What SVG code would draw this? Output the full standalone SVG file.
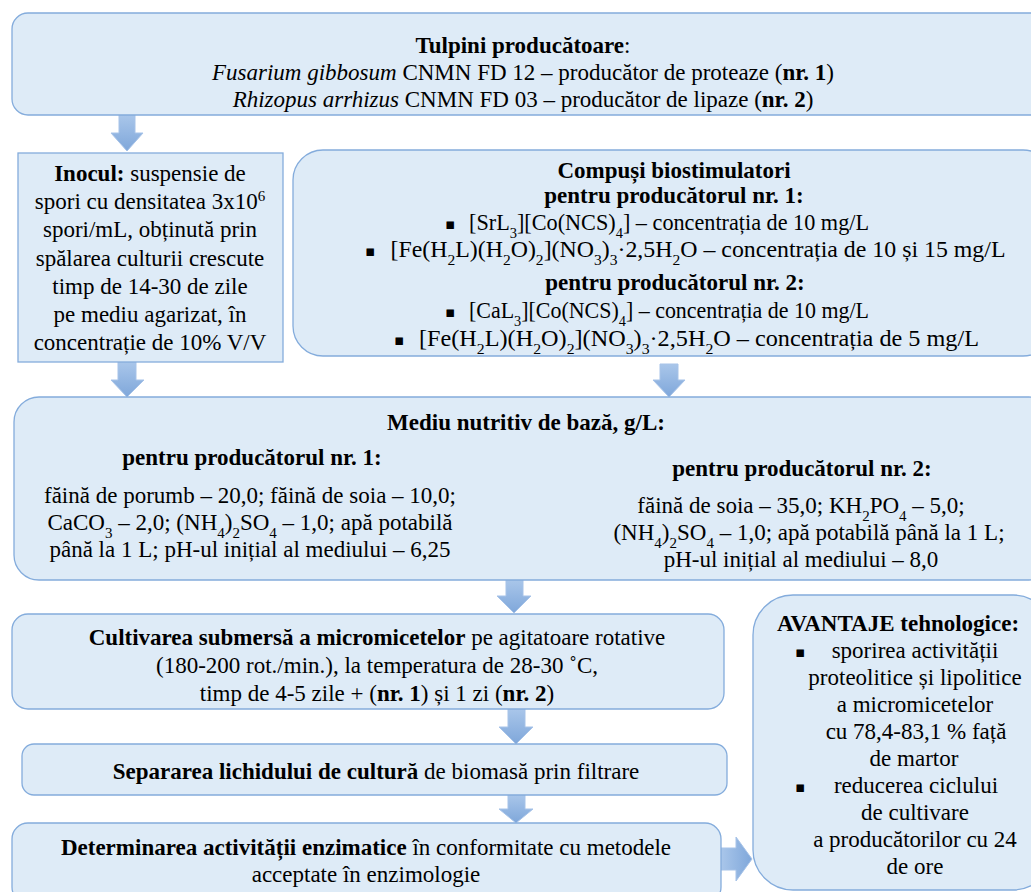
<svg xmlns="http://www.w3.org/2000/svg" width="1031" height="892" viewBox="0 0 1031 892">
<defs>
<linearGradient id="ag" x1="0" y1="0" x2="1" y2="0">
<stop offset="0" stop-color="#A9C6EA"/>
<stop offset="1" stop-color="#7FA7DA"/>
</linearGradient>
<linearGradient id="agv" x1="0" y1="0" x2="0" y2="1">
<stop offset="0" stop-color="#A9C6EA"/>
<stop offset="1" stop-color="#7FA7DA"/>
</linearGradient>
<style>
.box{fill:#DEEBF7;stroke:#84ACDC;stroke-width:1.3}
.arr{fill:url(#agv);stroke:#A7C3E8;stroke-width:1}
.arrh{fill:url(#ag);stroke:#A7C3E8;stroke-width:1}
text{font-family:"Liberation Serif","Times New Roman",serif;font-size:23px;fill:#000}
.c{text-anchor:middle}
.b{font-weight:bold}
.i{font-style:italic}
.bul{font-family:"DejaVu Sans",sans-serif;font-size:15px;text-anchor:middle}
.sub{font-size:15px;baseline-shift:sub}
.sup{font-size:15px;baseline-shift:super}
</style>
</defs>
<g id="connectors">
<path class="arr" d="M119,115 H135 V133 H143 L127,151 L111,133 H119 Z"/>
<path class="arr" d="M118,362 H136 V380 H144 L127,397 L111,380 H118 Z"/>
<path class="arr" d="M660,364 H678 V380 H685 L669,397 L653,380 H660 Z"/>
<path class="arr" d="M506,580 H523 V596 H531 L514,613 L497,596 H506 Z"/>
<path class="arr" d="M508,709 H525 V727 H533 L516,744 L499,727 H508 Z"/>
<path class="arr" d="M508,795 H525 V809 H533 L516,823 L499,809 H508 Z"/>
<path class="arrh" d="M721,848 H736 V837 L752,859 L736,881 V870 H721 Z"/>
</g>
<g id="tulpini">
<rect class="box" x="12" y="13" width="1040" height="102" rx="16"/>
<text class="c" x="523" y="53"><tspan class="b">Tulpini producătoare</tspan>:</text>
<text class="c" x="523" y="80"><tspan class="i">Fusarium gibbosum</tspan> CNMN FD 12 – producător de proteaze (<tspan class="b">nr. 1</tspan>)</text>
<text class="c" x="523" y="107"><tspan class="i">Rhizopus arrhizus</tspan> CNMN FD 03 – producător de lipaze (<tspan class="b">nr. 2</tspan>)</text>
</g>
<g id="inocul">
<rect class="box" x="18" y="153" width="265" height="209"/>
<text class="c" x="150" y="181"><tspan class="b">Inocul:</tspan> suspensie de</text>
<text class="c" x="150" y="209">spori cu densitatea 3x10<tspan class="sup">6</tspan></text>
<text class="c" x="150" y="237">spori/mL, obținută prin</text>
<text class="c" x="150" y="266">spălarea culturii crescute</text>
<text class="c" x="150" y="294">timp de 14-30 de zile</text>
<text class="c" x="150" y="322">pe mediu agarizat, în</text>
<text class="c" x="150" y="350">concentrație de 10% V/V</text>
</g>
<g id="compusi">
<rect class="box" x="293" y="150" width="760" height="206" rx="30"/>
<text class="c b" x="674" y="178">Compuși biostimulatori</text>
<text class="c b" x="674" y="203">pentru producătorul nr. 1:</text>
<text class="bul" x="450" y="229">▪</text>
<text class="c" x="669" y="230" textLength="400" lengthAdjust="spacingAndGlyphs">[SrL<tspan class="sub">3</tspan>][Co(NCS)<tspan class="sub">4</tspan>] – concentrația de 10 mg/L</text>
<text class="bul" x="370" y="256">▪</text>
<text class="c" x="698" y="257" textLength="615" lengthAdjust="spacingAndGlyphs">[Fe(H<tspan class="sub">2</tspan>L)(H<tspan class="sub">2</tspan>O)<tspan class="sub">2</tspan>](NO<tspan class="sub">3</tspan>)<tspan class="sub">3</tspan>·2,5H<tspan class="sub">2</tspan>O – concentrația de 10 și 15 mg/L</text>
<text class="c b" x="675" y="290">pentru producătorul nr. 2:</text>
<text class="bul" x="450" y="317">▪</text>
<text class="c" x="669" y="318" textLength="400" lengthAdjust="spacingAndGlyphs">[CaL<tspan class="sub">3</tspan>][Co(NCS)<tspan class="sub">4</tspan>] – concentrația de 10 mg/L</text>
<text class="bul" x="399" y="345">▪</text>
<text class="c" x="699" y="346" textLength="560" lengthAdjust="spacingAndGlyphs">[Fe(H<tspan class="sub">2</tspan>L)(H<tspan class="sub">2</tspan>O)<tspan class="sub">2</tspan>](NO<tspan class="sub">3</tspan>)<tspan class="sub">3</tspan>·2,5H<tspan class="sub">2</tspan>O – concentrația de 5 mg/L</text>
</g>
<g id="mediu">
<rect class="box" x="14" y="397" width="1040" height="183" rx="25"/>
<text class="c b" x="526" y="430">Mediu nutritiv de bază, g/L:</text>
<text class="c b" x="252" y="465">pentru producătorul nr. 1:</text>
<text class="c" x="250" y="503">făină de porumb – 20,0; făină de soia – 10,0;</text>
<text class="c" x="250" y="530">CaCO<tspan class="sub">3</tspan> – 2,0; (NH<tspan class="sub">4</tspan>)<tspan class="sub">2</tspan>SO<tspan class="sub">4</tspan> – 1,0; apă potabilă</text>
<text class="c" x="250" y="557">până la 1 L; pH-ul inițial al mediului – 6,25</text>
<text class="c b" x="802" y="476">pentru producătorul nr. 2:</text>
<text class="c" x="801" y="513">făină de soia – 35,0; KH<tspan class="sub">2</tspan>PO<tspan class="sub">4</tspan> – 5,0;</text>
<text class="c" x="809" y="540">(NH<tspan class="sub">4</tspan>)<tspan class="sub">2</tspan>SO<tspan class="sub">4</tspan> – 1,0; apă potabilă până la 1 L;</text>
<text class="c" x="801" y="567">pH-ul inițial al mediului – 8,0</text>
</g>
<g id="cultivarea">
<rect class="box" x="12" y="614" width="712" height="95" rx="16"/>
<text class="c" x="377" y="645"><tspan class="b">Cultivarea submersă a micromicetelor</tspan> pe agitatoare rotative</text>
<text class="c" x="377" y="673">(180-200 rot./min.), la temperatura de 28-30 ˚C,</text>
<text class="c" x="377" y="701">timp de 4-5 zile + (<tspan class="b">nr. 1</tspan>) și 1 zi (<tspan class="b">nr. 2</tspan>)</text>
</g>
<g id="separarea">
<rect class="box" x="22" y="744" width="705" height="51" rx="12"/>
<text class="c" x="376" y="779"><tspan class="b">Separarea lichidului de cultură</tspan> de biomasă prin filtrare</text>
</g>
<g id="determinarea">
<rect class="box" x="12" y="823" width="709" height="80" rx="16"/>
<text class="c" x="366" y="855"><tspan class="b">Determinarea activității enzimatice</tspan> în conformitate cu metodele</text>
<text class="c" x="366" y="882">acceptate în enzimologie</text>
</g>
<g id="avantaje">
<rect class="box" x="753" y="595" width="300" height="295" rx="40"/>
<text class="c b" x="898" y="631">AVANTAJE tehnologice:</text>
<text class="bul" x="800" y="657">▪</text>
<text class="c" x="915" y="658">sporirea activității</text>
<text class="c" x="915" y="685">proteolitice și lipolitice</text>
<text class="c" x="915" y="712">a micromicetelor</text>
<text class="c" x="916" y="739">cu 78,4-83,1 % față</text>
<text class="c" x="914" y="766">de martor</text>
<text class="bul" x="800" y="792">▪</text>
<text class="c" x="916" y="793">reducerea ciclului</text>
<text class="c" x="915" y="820">de cultivare</text>
<text class="c" x="915" y="847">a producătorilor cu 24</text>
<text class="c" x="915" y="874">de ore</text>
</g>
</svg>
